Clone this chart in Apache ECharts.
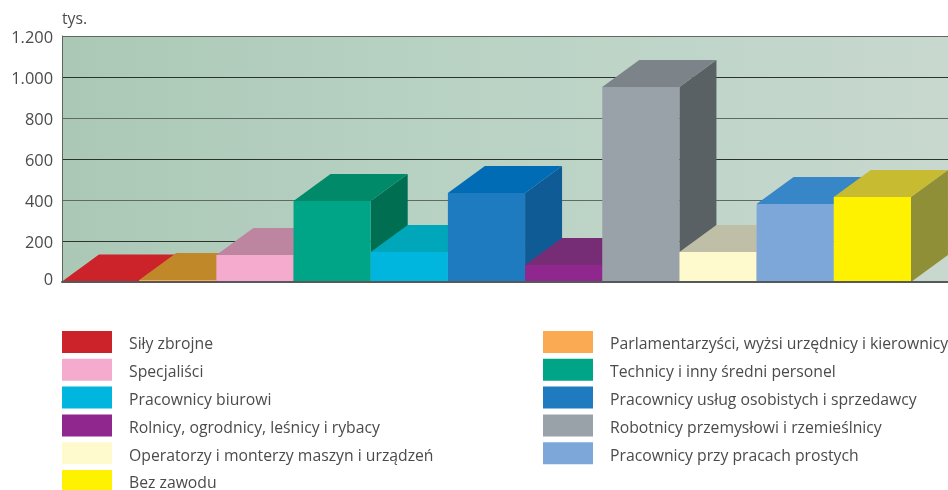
<!DOCTYPE html>
<html>
<head>
<meta charset="utf-8">
<style>html,body{margin:0;padding:0;background:#fff}#c{width:948px;height:490px}</style>
<script src="https://cdn.jsdelivr.net/npm/echarts@6/dist/echarts.min.js"></script>
</head>
<body>
<div id="c"></div>
<script>
const categories = ['Siły zbrojne','Parlamentarzyści, wyżsi urzędnicy i kierownicy','Specjaliści','Technicy i inny średni personel','Pracownicy biurowi','Pracownicy usług osobistych i sprzedawcy','Rolnicy, ogrodnicy, leśnicy i rybacy','Robotnicy przemysłowi i rzemieślnicy','Operatorzy i monterzy maszyn i urządzeń','Pracownicy przy pracach prostych','Bez zawodu'];
const values = [2, 10, 132, 395, 146, 434, 83, 951, 146, 380, 415];
const frontColors = ['#cc2229','#fbaa54','#f5abce','#00a587','#00b6de','#1f7bc0','#90278e','#9aa2a9','#fffacd','#7ea7d9','#fff200'];
const topColors = ['#cc2229','#c18829','#bd85a0','#008a69','#00a6b9','#006cb5','#772d75','#7c8389','#bfbfa8','#3787c8','#c6bb31'];
const sideColors = ['#8e181d','#87601d','#84607a','#006e50','#007f8e','#0f5b96','#591f58','#5a6164','#8f8f7c','#28659a','#8f8f38'];
const tickLabels = ['0','200','400','600','800','1.000','1.200'];
const yMax = 1200, yStep = 200, xMax = 11.48;
const depthX = 37, depthY = 27;

const chart = echarts.init(document.getElementById('c'), null, {renderer:'canvas'});
const textColor = '#4b4b4b';
const font = '"Open Sans"';

function poly(points, fill) {
  return {type:'polygon', shape:{points}, style:{fill}};
}
const series = categories.map((name, i) => ({
  name,
  type: 'custom',
  coordinateSystem: 'cartesian2d',
  clip: false,
  animation: false,
  silent: true,
  itemStyle: {color: frontColors[i]},
  data: [[i, values[i]]],
  encode: {x: 0, y: 1},
  renderItem: (params, api) => {
    const a = api.coord([api.value(0), api.value(1)]);
    const b = api.coord([api.value(0) + 1, 0]);
    const [x0, yt] = a, [x1, yb] = b;
    return {type:'group', children:[
      poly([[x1,yt],[x1+depthX,yt-depthY],[x1+depthX,yb-depthY],[x1,yb]], sideColors[i]),
      poly([[x0,yt],[x0+depthX,yt-depthY],[x1+depthX,yt-depthY],[x1,yt]], topColors[i]),
      poly([[x0,yt],[x1,yt],[x1,yb],[x0,yb]], frontColors[i])
    ]};
  }
}));

function legend(left, idx) {
  return {
    show: true, orient: 'vertical', left, top: 331, height: 175, padding: 0,
    itemWidth: 50, itemHeight: 22, itemGap: 5.8, icon: 'rect',
    selectedMode: false,
    data: idx.map(i => categories[i]),
    formatter: (name) => '{t|' + name + '}',
    textStyle: {
      color: textColor, fontFamily: font, fontSize: 15.75,
      rich: {t: {color: textColor, fontFamily: font, fontSize: 15.75, lineHeight: 16, padding: [6,0,0,12]}}
    }
  };
}

chart.setOption({
  animation: false,
  textStyle: {fontFamily: font},
  grid: {
    left: 62, top: 36, right: 0, bottom: 208, show: true, borderWidth: 0,
    backgroundColor: new echarts.graphic.LinearGradient(0,0,1,0,[
      {offset:0,color:'#abc8b6'},{offset:0.5,color:'#bad3c5'},{offset:1,color:'#c8d8cf'}
    ])
  },
  legend: [legend(62,[0,2,4,6,8,10]), legend(543,[1,3,5,7,9])],
  xAxis: {
    type:'value', min:0, max:xMax, show:true, z:5,
    axisLine:{show:true,lineStyle:{color:'#55595a',width:2}},
    axisTick:{show:false}, axisLabel:{show:false}, splitLine:{show:false}
  },
  yAxis: {
    type:'value', min:0, max:yMax, interval:yStep,
    name:'tys.', nameLocation:'end', nameGap:8,
    nameTextStyle:{color:textColor,fontFamily:font,fontSize:15.75,align:'left'},
    axisLine:{show:true,onZero:false,lineStyle:{color:'#5c655e',width:1}},
    axisTick:{show:false},
    axisLabel:{
      color:textColor,fontFamily:font,fontSize:16.4,margin:9,
      formatter:(v)=>{const s=tickLabels[v/yStep];return v===0?'{z|'+s+'}':'{n|'+s+'}';},
      rich:{
        z:{color:textColor,fontFamily:font,fontSize:16.4,padding:[0,0,4,0]},
        n:{color:textColor,fontFamily:font,fontSize:16.4,padding:[4,0,0,0]}
      }
    },
    splitLine:{show:true,lineStyle:{color:['#5f6a62','#2a332c','#5f6a62','#2a332c','#5f6a62','#2a332c','#5f6a62'],width:1}}
  },
  series
});
</script>
</body>
</html>
